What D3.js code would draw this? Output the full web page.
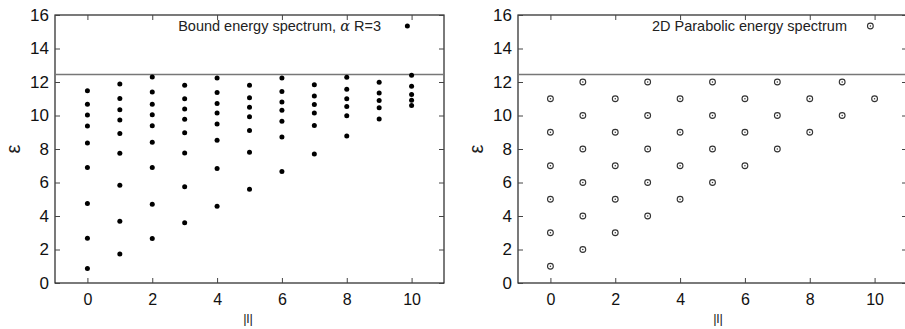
<!DOCTYPE html>
<html>
<head>
<meta charset="utf-8">
<script src="https://cdn.jsdelivr.net/npm/d3@7"></script>
<style>
  body { margin: 0; background: #fff; }
  svg { display: block; font-family: "Liberation Sans", Arial, Helvetica, sans-serif; }
</style>
</head>
<body>
<svg id="chart" width="905" height="329"></svg>
<script>
// |l| values on the x axis
const lValues = [0, 1, 2, 3, 4, 5, 6, 7, 8, 9, 10];

// bound energy levels for alpha R = 3, one list per |l|
const boundLevels = [
  [11.48, 10.67, 10.03, 9.37, 8.36, 6.89, 4.74, 2.67, 0.86],
  [11.88, 11.02, 10.35, 9.73, 8.92, 7.74, 5.83, 3.68, 1.73],
  [12.30, 11.40, 10.67, 10.05, 9.39, 8.40, 6.89, 4.70, 2.65],
  [11.80, 11.00, 10.39, 9.77, 8.97, 7.76, 5.75, 3.60],
  [12.24, 11.38, 10.71, 10.15, 9.49, 8.52, 6.83, 4.58],
  [11.80, 11.06, 10.49, 9.93, 9.11, 7.80, 5.59],
  [12.24, 11.44, 10.81, 10.31, 9.65, 8.72, 6.65],
  [11.84, 11.16, 10.65, 10.15, 9.41, 7.70],
  [12.28, 11.56, 11.00, 10.53, 9.99, 8.78],
  [11.98, 11.34, 10.89, 10.47, 9.79],
  [12.40, 11.74, 11.26, 10.91, 10.59]
];

// 2D parabolic levels, one list per |l|
const parabolicLevels = [
  [1, 3, 5, 7, 9, 11],
  [2, 4, 6, 8, 10, 12],
  [3, 5, 7, 9, 11],
  [4, 6, 8, 10, 12],
  [5, 7, 9, 11],
  [6, 8, 10, 12],
  [7, 9, 11],
  [8, 10, 12],
  [9, 11],
  [10, 12],
  [11]
];

const thresholdLevel = 12.45;
const xTicks = [0, 2, 4, 6, 8, 10];
const yTicks = [0, 2, 4, 6, 8, 10, 12, 14, 16];

const svg = d3.select('#chart');

function flatten(levels) {
  const pts = [];
  levels.forEach((list, i) => list.forEach(e => pts.push({ l: lValues[i], e })));
  return pts;
}

function drawPanel(opts) {
  const { left, right, top, bottom, points, legend, legendX, symbol, labelX } = opts;
  const x = d3.scaleLinear().domain([-1, 11]).range([left, right]);
  const y = d3.scaleLinear().domain([0, 16]).range([bottom, top]);
  const g = svg.append('g');

  // frame
  g.append('rect')
    .attr('x', left).attr('y', top)
    .attr('width', right - left).attr('height', bottom - top)
    .attr('fill', 'none').attr('stroke', '#222').attr('stroke-width', 1.2);

  // axes, ticks pointing in and mirrored on top/right
  const tickLen = 5;
  const ax = [
    d3.axisBottom(x).tickValues(xTicks).tickSizeInner(-tickLen).tickSizeOuter(0).tickPadding(11),
    d3.axisTop(x).tickValues(xTicks).tickSizeInner(-tickLen).tickSizeOuter(0).tickFormat(''),
    d3.axisLeft(y).tickValues(yTicks).tickSizeInner(-tickLen).tickSizeOuter(0).tickPadding(6),
    d3.axisRight(y).tickValues(yTicks).tickSizeInner(-tickLen).tickSizeOuter(0).tickFormat('')
  ];
  const trans = [`translate(0,${bottom})`, `translate(0,${top})`, `translate(${left},0)`, `translate(${right},0)`];
  const sizes = [16, 16, 17, 17];
  ax.forEach((a, i) => {
    const ag = g.append('g').attr('transform', trans[i]).call(a);
    ag.select('.domain').remove();
    ag.selectAll('line').attr('stroke', '#444');
    ag.selectAll('text').attr('font-size', sizes[i]).attr('fill', '#111')
      .attr('font-family', '"Liberation Sans", Arial, sans-serif');
  });

  // threshold line
  g.append('line')
    .attr('x1', left).attr('x2', right)
    .attr('y1', y(thresholdLevel)).attr('y2', y(thresholdLevel))
    .attr('stroke', '#777').attr('stroke-width', 1.6);

  // points
  const drawSym = (sel, cx, cy) => {
    if (symbol === 'dot') {
      sel.append('circle').attr('cx', cx).attr('cy', cy).attr('r', 2.5).attr('fill', '#000');
    } else {
      sel.append('circle').attr('cx', cx).attr('cy', cy).attr('r', 2.9)
        .attr('fill', 'none').attr('stroke', '#333').attr('stroke-width', 1.1);
      sel.append('circle').attr('cx', cx).attr('cy', cy).attr('r', 0.75).attr('fill', '#333');
    }
  };
  const pg = g.append('g');
  points.forEach(p => drawSym(pg, x(p.l), y(p.e)));

  // legend
  g.append('text')
    .attr('x', legendX).attr('y', 31)
    .attr('text-anchor', 'end')
    .attr('font-size', 14.5).attr('fill', '#222')
    .html(legend);
  drawSym(g, x(9.87), 26);

  // axis titles
  g.append('text')
    .attr('transform', `translate(${left - 42},${(top + bottom) / 2}) rotate(-90)`)
    .attr('text-anchor', 'middle').attr('dy', '0.35em')
    .attr('font-size', 20).attr('fill', '#222')
    .text('ε');
  g.append('text')
    .attr('x', labelX).attr('y', 323)
    .attr('text-anchor', 'middle')
    .attr('font-size', 13).attr('fill', '#222')
    .text('|l|');
}

drawPanel({
  left: 55, right: 444, top: 15, bottom: 283,
  points: flatten(boundLevels),
  legend: 'Bound energy spectrum, <tspan font-family="DejaVu Serif, serif" font-style="italic">α</tspan> R=3',
  legendX: 381, symbol: 'dot', labelX: 248
});

drawPanel({
  left: 518, right: 907, top: 15, bottom: 283,
  points: flatten(parabolicLevels),
  legend: '2D Parabolic energy spectrum',
  legendX: 847, symbol: 'ring', labelX: 718
});
</script>
</body>
</html>
